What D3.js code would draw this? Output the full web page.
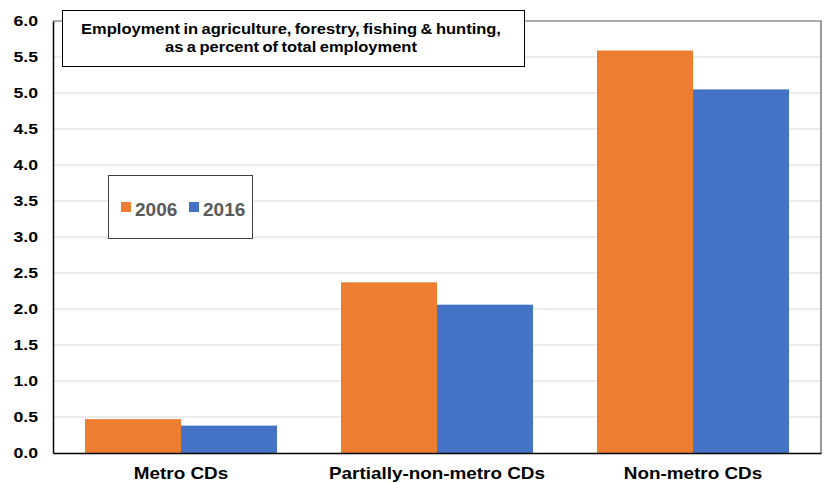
<!DOCTYPE html>
<html><head><meta charset="utf-8">
<script src="https://cdn.jsdelivr.net/npm/d3@7"></script>
<style>
html,body{margin:0;padding:0;background:#fff;}
svg{display:block;font-family:"Liberation Sans",Arial,sans-serif;}
</style></head>
<body>
<svg id="chart" width="827" height="483"></svg>
<script>
const categories = ["Metro CDs", "Partially-non-metro CDs", "Non-metro CDs"];
const seriesNames = ["2006", "2016"];
const values2006 = [0.47, 2.37, 5.59];
const values2016 = [0.38, 2.06, 5.05];
const yTicks = [0, 0.5, 1, 1.5, 2, 2.5, 3, 3.5, 4, 4.5, 5, 5.5, 6];
const titleLines = ["Employment in agriculture, forestry, fishing & hunting,", "as a percent of total employment"];
const colors = ["#ED7D31", "#4472C4"];

const SX = 1.18; // horizontal stretch of text seen in the reference
const svg = d3.select("#chart");
const L = 53, R = 821, T = 21, B = 453;
const x = d3.scaleBand().domain(categories).range([L, R]).paddingInner(0.25).paddingOuter(0.125);
const xs = d3.scaleBand().domain(seriesNames).range([0, x.bandwidth()]);
const y = d3.scaleLinear().domain([0, 6]).range([B, T]);

// gridlines
svg.append("g").selectAll("line").data(yTicks.filter(d => d > 0 && d < 6)).join("line")
  .attr("x1", L).attr("x2", R).attr("y1", d => y(d)).attr("y2", d => y(d))
  .attr("stroke", "#d9d9d9").attr("stroke-width", 1);
// top & right border
svg.append("path").attr("d", `M${L},${y(6)}H${R}V${B}`).attr("fill", "none")
  .attr("stroke", "#595959").attr("stroke-width", 1.2);

// bars
const series = [values2006, values2016];
series.forEach((vals, si) => {
  svg.append("g").selectAll("rect").data(vals).join("rect")
    .attr("x", (d, i) => x(categories[i]) + xs(seriesNames[si]))
    .attr("width", xs.bandwidth())
    .attr("y", d => y(d))
    .attr("height", d => B - y(d))
    .attr("fill", colors[si]);
});

// y axis
const yAxis = d3.axisLeft(y).tickValues(yTicks).tickFormat(d3.format(".1f")).tickSize(0).tickPadding(15);
const ya = svg.append("g").attr("transform", `translate(${L},0)`).call(yAxis);
ya.select(".domain").attr("stroke", "#000").attr("stroke-width", 1.5);
ya.selectAll("text").attr("font-size", 15).attr("font-weight", "bold").attr("fill", "#000")
  .attr("font-family", "Liberation Sans, Arial, sans-serif")
  .attr("x", -15 / SX).attr("transform", `scale(${SX},1)`);

// x axis
const xAxis = d3.axisBottom(x).tickSize(0).tickPadding(15);
const xa = svg.append("g").attr("transform", `translate(0,${B})`).call(xAxis);
xa.select(".domain").attr("stroke", "#000").attr("stroke-width", 1.5);
xa.selectAll("text").attr("font-size", 16).attr("font-weight", "bold").attr("fill", "#000")
  .attr("font-family", "Liberation Sans, Arial, sans-serif")
  .attr("transform", `scale(${SX},1)`);

// title box
svg.append("rect").attr("x", 62.5).attr("y", 10.5).attr("width", 462).attr("height", 56)
  .attr("fill", "#fff").attr("stroke", "#000").attr("stroke-width", 1);
svg.append("g").attr("transform", `translate(291,0) scale(${SX},1)`)
  .selectAll("text").data(titleLines).join("text")
  .attr("x", 0).attr("y", (d, i) => 34 + i * 18)
  .attr("text-anchor", "middle").attr("font-size", 14).attr("font-weight", "bold")
  .attr("word-spacing", -1)
  .attr("fill", "#000").text(d => d);

// legend
svg.append("rect").attr("x", 108.5).attr("y", 175.5).attr("width", 144).attr("height", 63)
  .attr("fill", "#fff").attr("stroke", "#404040").attr("stroke-width", 1);
const lg = svg.append("g").selectAll("g").data(seriesNames).join("g")
  .attr("transform", (d, i) => `translate(${121 + i * 68},202)`);
lg.append("rect").attr("width", 10).attr("height", 10).attr("fill", (d, i) => colors[i]);
lg.append("text").attr("x", 14).attr("y", 14).attr("font-size", 19).attr("font-weight", "bold")
  .attr("fill", "#595959").text(d => d);
</script>
</body></html>
